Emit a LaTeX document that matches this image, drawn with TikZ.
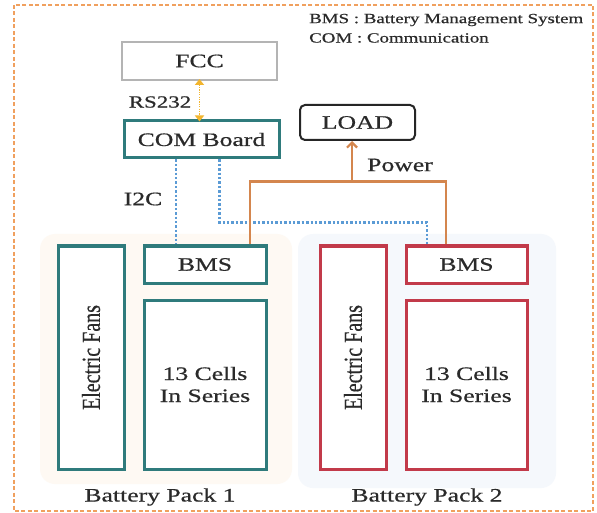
\documentclass[tikz,border=0pt]{standalone}
\usepackage{fontspec}
\setmainfont{Liberation Serif}[FakeStretch=1.35,FakeBold=0.6]
\newfontfamily\plainserif{Liberation Serif}[FakeBold=0.6]
\usetikzlibrary{arrows.meta,calc}
\definecolor{teal1}{HTML}{2F7B7C}
\definecolor{red1}{HTML}{C23A4A}
\definecolor{gray1}{HTML}{B4B4B4}
\definecolor{orange1}{HTML}{D4864E}
\definecolor{blue1}{HTML}{5B9BD5}
\definecolor{yellow1}{HTML}{F2B52E}
\definecolor{frame1}{HTML}{F0A05E}
\definecolor{txt}{HTML}{2A2A2A}
\definecolor{bgpeach}{HTML}{FEF9F3}
\definecolor{bgblue}{HTML}{F5F8FC}
\tikzset{
  lbl/.style={text=txt, font=\fontsize{19}{22}\selectfont, inner sep=0pt},
  tealbox/.style={draw=teal1, line width=3pt, fill=white, lbl, align=center},
  redbox/.style={draw=red1, line width=3pt, fill=white, lbl, align=center},
  fccbox/.style={draw=gray1, line width=2pt, fill=white, lbl},
  loadbox/.style={draw=black!85, line width=2pt, rounded corners=5pt, fill=white, lbl},
  i2cline/.style={draw=blue1, line width=2.6pt, dash pattern=on 2.4pt off 2pt},
  pwrline/.style={draw=orange1, line width=2.2pt},
  rsline/.style={draw=yellow1, line width=1.6pt, dash pattern=on 1.2pt off 1.2pt},
  fanlbl/.style={rotate=90, text=txt, inner sep=0pt}
}
\begin{document}
\begin{tikzpicture}[x=1pt,y=-1pt]
\useasboundingbox (0,0) rectangle (597,513);
\fill[white] (0,0) rectangle (597,513);
% pack backgrounds
\fill[bgpeach, rounded corners=15pt] (40,234) rectangle (292,484);
\fill[bgblue, rounded corners=15pt] (298,234) rectangle (556,488);
% outer frame
\draw[frame1, line width=1.6pt, dash pattern=on 4pt off 2.5pt] (14,5) rectangle (593,511);
% legend
\node[anchor=west, text=txt, font=\fontsize{14}{16}\selectfont, inner sep=0pt] (leg1) at (309,20) {BMS : Battery Management System};
\node[anchor=west, text=txt, font=\fontsize{14}{16}\selectfont, inner sep=0pt] (leg2) at (309,38) {COM : Communication};
% top nodes
\node[fccbox, minimum width=155pt, minimum height=38pt] (fcc) at (199.5,61) {FCC};
\node[tealbox, minimum width=155pt, minimum height=37pt] (com) at (201.5,139.5) {COM Board};
\node[loadbox, minimum width=115pt, minimum height=35pt] (load) at (357.5,122.5) {LOAD};
% pack 1
\node[tealbox, minimum width=66pt, minimum height=223pt] (fans1) at (91,357.5) {};
\node[fanlbl] (fanst1) at (fans1.center) {\scalebox{1}[1.3]{\plainserif\fontsize{20}{22}\selectfont Electric Fans}};
\node[tealbox, minimum width=122pt, minimum height=37pt] (bms1) at (205,264.5) {BMS};
\node[tealbox, minimum width=122pt, minimum height=169pt] (cells1) at (205,384.5) {13 Cells\\In Series};
\node[lbl] (pack1) at (160,497) {Battery Pack 1};
% pack 2
\node[redbox, minimum width=66pt, minimum height=223pt] (fans2) at (353,357.5) {};
\node[fanlbl] (fanst2) at (fans2.center) {\scalebox{1}[1.3]{\plainserif\fontsize{20}{22}\selectfont Electric Fans}};
\node[redbox, minimum width=121pt, minimum height=37pt] (bms2) at (466.5,264.5) {BMS};
\node[redbox, minimum width=121pt, minimum height=169pt] (cells2) at (466.5,384.5) {13 Cells\\In Series};
\node[lbl] (pack2) at (427,497) {Battery Pack 2};
% RS232
\draw[rsline, {Triangle[length=6pt,width=9pt]}-{Triangle[length=6pt,width=9pt]}] ([yshift=2pt]fcc.south) -- ([yshift=-2pt]fcc.south |- com.north);
\node[text=txt, font=\fontsize{17}{19}\selectfont, inner sep=0pt] (rs) at (160,102) {RS232};
% I2C lines
\draw[i2cline] ([xshift=-25.5pt]com.south) -- ([xshift=-25.5pt]com.south |- bms1.north);
\draw[i2cline] ([xshift=18pt]com.south) -- ++(0,63) -| ([xshift=-39.5pt]bms2.north);
\node[lbl] (i2c) at (143,199) {I2C};
% Power
\draw[pwrline] ([xshift=45pt]bms1.north) -- ++(0,-63) -| ([xshift=-20.5pt]bms2.north);
\coordinate (pj) at (352,183);
\draw[pwrline, -{Straight Barb[length=5pt,width=10pt]}] (pj) -- (pj |- load.south);
\node[lbl] (pw) at (400,165) {Power};
\end{tikzpicture}
\end{document}
